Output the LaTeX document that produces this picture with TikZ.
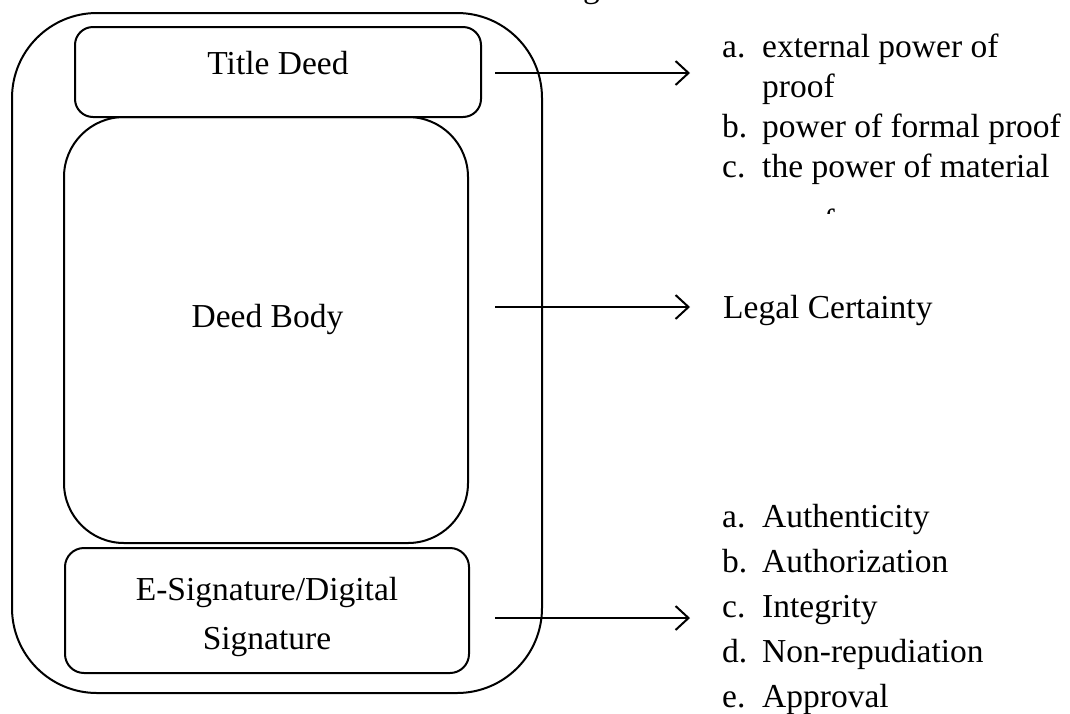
\documentclass[tikz,border=0pt]{standalone}
\usepackage{fontspec}
\setmainfont{Liberation Serif}
\usetikzlibrary{arrows.meta}
\begin{document}
\begin{tikzpicture}[x=1pt,y=-1pt,
  box/.style={draw,line width=2pt,minimum width=#1},
  conn/.style={line width=2pt,-{Straight Barb[length=13pt,width=24pt,line width=2pt]}},
  txt/.style={font=\fontsize{33.5}{40}\selectfont,inner sep=0pt,anchor=base west},
  ctr/.style={font=\fontsize{33.5}{40}\selectfont,inner sep=0pt,anchor=base}]
\useasboundingbox (0,0) rectangle (1070,713);
\node[box=530pt,minimum height=680pt,rounded corners=85pt] (outer) at (277,353) {};
\node[box=406pt,minimum height=90pt,rounded corners=18pt] (title) at (278,72) {};
\node[box=404pt,minimum height=426pt,rounded corners=60pt] (body) at (266,330) {};
\node[box=404pt,minimum height=125pt,rounded corners=19pt] (esig) at (267,610.5) {};
\node[ctr] (tlab) at (278,74) {Title Deed};
\node[ctr] (blab) at (267.5,327) {Deed Body};
\node[ctr] (elab1) at (267,600) {E-Signature/Digital};
\node[ctr] (elab2) at (267,649) {Signature};
\coordinate (s1) at (495,73);
\coordinate (s2) at (495,307);
\coordinate (s3) at (495,618);
\coordinate (a1) at (690,73);
\coordinate (a2) at (690,307);
\coordinate (a3) at (690,618);
\draw[conn] (s1) -- (a1);
\draw[conn] (s2) -- (a2);
\draw[conn] (s3) -- (a3);
% cut-off text above the picture
\begin{scope}
\clip (0,0) rectangle (1070,713);
\node[txt] (topfrag) at (583,-3) {g};
\end{scope}
% top list
\node[txt] (la) at (722,57) {a.};
\node[txt] (ta) at (762,57) {external power of};
\node[txt] (ta2) at (762,97) {proof};
\node[txt] (lb) at (722,137) {b.};
\node[txt] (tb) at (762,137) {power of formal proof};
\node[txt] (lc) at (722,177) {c.};
\node[txt] (tc) at (762,177) {the power of material};
\begin{scope}
\clip (600,190) rectangle (1070,213);
\node[txt] (tc2) at (762,232) {proof};
\end{scope}
\node[txt] (legal) at (723,318) {Legal Certainty};
% bottom list
\node[txt] (lba) at (722,527) {a.};
\node[txt] (tba) at (762,527) {Authenticity};
\node[txt] (lbb) at (722,572) {b.};
\node[txt] (tbb) at (762,572) {Authorization};
\node[txt] (lbc) at (722,617) {c.};
\node[txt] (tbc) at (762,617) {Integrity};
\node[txt] (lbd) at (722,662) {d.};
\node[txt] (tbd) at (762,662) {Non-repudiation};
\node[txt] (lbe) at (722,707) {e.};
\node[txt] (tbe) at (762,707) {Approval};
\end{tikzpicture}
\end{document}
